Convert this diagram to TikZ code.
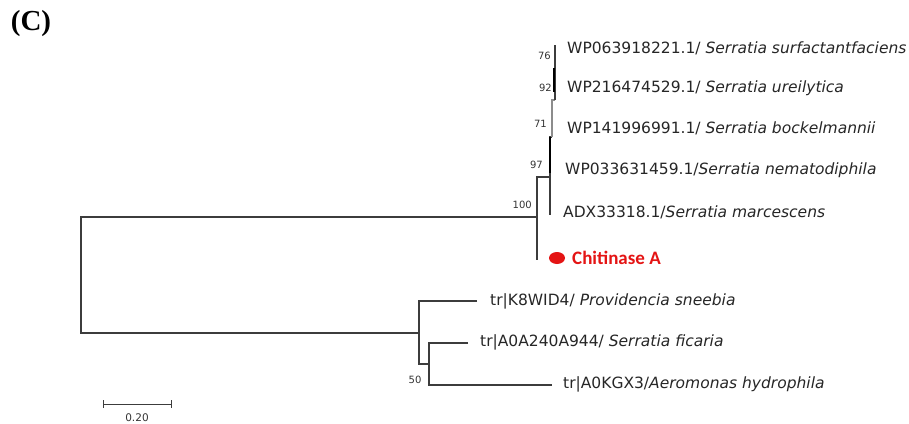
\documentclass[tikz,border=0pt]{standalone}
\usepackage{fontspec}
\setmainfont{DejaVu Sans}
\newfontfamily\carl{Carlito}
\newfontfamily\tnr{Liberation Serif}
\usetikzlibrary{shapes.geometric}
\definecolor{br}{RGB}{60,60,60}
\definecolor{hl}{RGB}{228,20,20}
\tikzset{
  branch/.style={draw=br, line width=1.2pt},
  taxon/.style={anchor=west, inner sep=0pt, font=\fontsize{15.5}{16}\selectfont, text=black!85},
  boot/.style={inner sep=0pt, font=\fontsize{10}{11}\selectfont, text=black!80},
}
\begin{document}
\begin{tikzpicture}[x=1pt, y=-1pt]
\useasboundingbox (0,0) rectangle (909,423);
% panel letter
\node[inner sep=0pt, font=\tnr\bfseries\fontsize{29}{31}\selectfont] (panel) at (31,24) {(C)};
% leaf labels
\node[taxon] (t1) at (567,48) {WP063918221.1/ \textit{Serratia surfactantfaciens}};
\node[taxon] (t2) at (567,88) {WP216474529.1/ \textit{Serratia ureilytica}};
\node[taxon] (t3) at (567,128) {WP141996991.1/ \textit{Serratia bockelmannii}};
\node[taxon] (t4) at (565,170) {WP033631459.1/\textit{Serratia nematodiphila}};
\node[taxon] (t5) at (563,212) {ADX33318.1/\textit{Serratia marcescens}};
\node[ellipse, fill=hl, minimum width=16pt, minimum height=12pt, inner sep=0pt] (dot) at (557,258) {};
\node[anchor=west, inner sep=0pt, text=hl, font=\carl\bfseries\fontsize{19}{21}\selectfont] (t6) at (572,258) {Chitinase A};
\node[taxon] (t7) at (490,301) {tr|K8WID4/ \textit{Providencia sneebia}};
\node[taxon] (t8) at (480,342) {tr|A0A240A944/ \textit{Serratia ficaria}};
\node[taxon] (t9) at (563,384) {tr|A0KGX3/\textit{Aeromonas hydrophila}};
% internal nodes
\coordinate (root) at (81,275);
\coordinate (n100) at (537,217);
\coordinate (n97) at (550,177);
\coordinate (n71) at (552,137);
\coordinate (n76) at (555,100);
\coordinate (lchi) at (537,260);
\coordinate (l5) at (550,215);
\coordinate (l1) at (555,45);
\coordinate (nB) at (419,333);
\coordinate (n50) at (429,364);
\coordinate (l7) at (477,301);
\coordinate (l8) at (468,343);
\coordinate (l9) at (552,385);
% branches
\draw[branch] (n100) -| (root) |- (nB);
\draw[branch] (n97) -| (n100) |- (lchi);
\draw[branch] (n71) -| (n97) |- (l5);
\draw[branch, draw=black!45] (n76) -| (n71);
\draw[branch, line width=2pt, draw=black] (n71) ++(-2,0) -- ++(0,36);
\draw[branch] (l1) -- (n76);
\draw[branch, line width=2.2pt, draw=black] (554,68) -- (554,92);
\draw[branch] (l7) -| (nB) |- (n50);
\draw[branch] (l8) -| (n50) |- (l9);
% bootstrap values
\node[boot, anchor=east] (b76) at (551,56) {76};
\node[boot, anchor=east] (b92) at (552,88) {92};
\node[boot, anchor=east] (b71) at (547,124) {71};
\node[boot, anchor=east] (b97) at (543,165) {97};
\node[boot, anchor=east] (b100) at (532,205) {100};
\node[boot] (b50) at (415,380) {50};
% scale bar
\coordinate (s1) at (103,404);
\coordinate (s2) at (171,404);
\draw[branch, line width=1pt] (s1) -- (s2);
\draw[branch, line width=1pt] (s1) ++(0,-4) -- ++(0,8);
\draw[branch, line width=1pt] (s2) ++(0,-4) -- ++(0,8);
\node[boot, font=\fontsize{10.5}{11}\selectfont] (sl) at (137,418) {0.20};
\end{tikzpicture}
\end{document}
